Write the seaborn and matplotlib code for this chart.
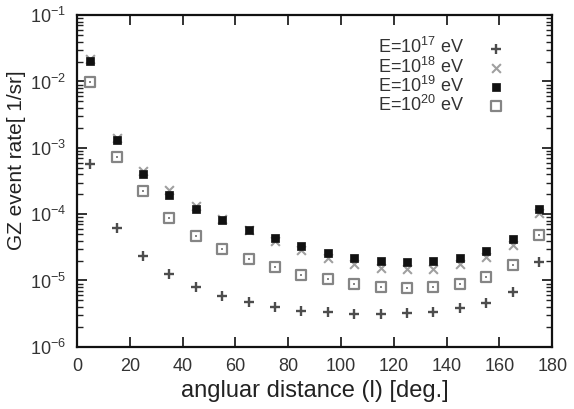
import numpy as np
import pandas as pd
import seaborn as sns
import matplotlib
matplotlib.use("Agg")
import matplotlib.pyplot as plt
from matplotlib.ticker import LogLocator, FixedLocator, FuncFormatter, NullFormatter

# ---- data ----
angle = [5, 15, 25, 35, 45, 55, 65, 75, 85, 95, 105, 115, 125, 135, 145, 155, 165, 175]
rate_e17 = [5.8e-4, 6.1e-5, 2.35e-5, 1.26e-5, 8.1e-6, 5.9e-6, 4.7e-6, 3.96e-6, 3.5e-6,
            3.3e-6, 3.1e-6, 3.1e-6, 3.2e-6, 3.4e-6, 3.8e-6, 4.55e-6, 6.7e-6, 1.93e-5]
rate_e18 = [2.2e-2, 1.4e-3, 4.5e-4, 2.3e-4, 1.35e-4, 8.4e-5, 5.7e-5, 3.9e-5, 2.9e-5,
            2.15e-5, 1.75e-5, 1.55e-5, 1.5e-5, 1.5e-5, 1.8e-5, 2.25e-5, 3.4e-5, 1.05e-4]
rate_e19 = [2.05e-2, 1.31e-3, 4.1e-4, 1.95e-4, 1.19e-4, 8.2e-5, 5.8e-5, 4.3e-5, 3.3e-5,
            2.63e-5, 2.2e-5, 2.0e-5, 1.93e-5, 1.97e-5, 2.17e-5, 2.8e-5, 4.2e-5, 1.19e-4]
rate_e20 = [9.9e-3, 7.3e-4, 2.2e-4, 8.9e-5, 4.75e-5, 2.96e-5, 2.09e-5, 1.58e-5, 1.21e-5,
            1.05e-5, 8.8e-6, 7.9e-6, 7.8e-6, 8.1e-6, 8.8e-6, 1.12e-5, 1.72e-5, 4.9e-5]
labels = [r"E=10$^{17}$ eV", r"E=10$^{18}$ eV", r"E=10$^{19}$ eV", r"E=10$^{20}$ eV"]
x_ticks = [0, 20, 40, 60, 80, 100, 120, 140, 160, 180]
y_exps = [-6, -5, -4, -3, -2, -1]

sns.set_theme(style="white")
plt.rcParams['font.family'] = ['Liberation Sans', 'DejaVu Sans']
plt.rcParams['mathtext.fontset'] = 'custom'
plt.rcParams['mathtext.rm'] = 'Liberation Sans'
plt.rcParams['mathtext.it'] = 'Liberation Sans'

fig = plt.figure(figsize=(5.74, 4.09), dpi=100)
ax = fig.add_axes([0.134, 0.152, 0.828, 0.811])

df = pd.DataFrame({"angle": angle * 4,
                   "rate": rate_e17 + rate_e18 + rate_e19 + rate_e20,
                   "energy": sum([[l] * len(angle) for l in labels], [])})

# E=1e17: plus
sns.scatterplot(data=df[df.energy == labels[0]], x="angle", y="rate", ax=ax,
                marker="+", s=50, color="#4d4d4d", linewidth=1.7, label=labels[0], zorder=3)
# E=1e18: x
sns.scatterplot(data=df[df.energy == labels[1]], x="angle", y="rate", ax=ax,
                marker="x", s=40, color="#a0a0a0", linewidth=1.5, label=labels[1], zorder=4)
# E=1e19: filled square
sns.scatterplot(data=df[df.energy == labels[2]], x="angle", y="rate", ax=ax,
                marker="s", s=36, color="#111111", edgecolor="#111111", linewidth=0.5,
                label=labels[2], zorder=5)
# E=1e20: open square with center dot
sns.scatterplot(data=df[df.energy == labels[3]], x="angle", y="rate", ax=ax,
                marker="s", s=52, facecolor="white", edgecolor="#858585", linewidth=1.6,
                label=labels[3], zorder=6)
sns.scatterplot(data=df[df.energy == labels[3]], x="angle", y="rate", ax=ax,
                marker="s", s=3, color="#858585", linewidth=0, legend=False, zorder=7)

ax.set_yscale("log")
ax.set_xlim(0, 180)
ax.set_ylim(1e-6, 1e-1)
ax.xaxis.set_major_locator(FixedLocator(x_ticks))
ax.yaxis.set_major_locator(FixedLocator([10.0 ** e for e in y_exps]))
ax.yaxis.set_major_formatter(FuncFormatter(lambda v, p: r"10$^{%d}$" % int(round(np.log10(v)))))
ax.yaxis.set_minor_locator(LogLocator(base=10, subs=[2, 3, 4, 5, 6, 7, 8, 9], numticks=100))
ax.yaxis.set_minor_formatter(NullFormatter())
ax.tick_params(which="both", direction="in", top=True, right=True, left=True, bottom=True,
               colors="#222222", labelcolor="#333333")
ax.tick_params(axis="x", which="minor", top=False, bottom=False)
ax.tick_params(which="major", length=7, width=1.3, labelsize=13, pad=8)
ax.tick_params(which="minor", length=4, width=1.0)
for sp in ax.spines.values():
    sp.set_color("#111111")
    sp.set_linewidth(1.6)

ax.set_xlabel("angluar distance (l) [deg.]", fontsize=17, color="#222222", labelpad=4)
ax.set_ylabel("GZ event rate[ 1/sr]", fontsize=15, color="#222222")
ax.yaxis.set_label_coords(-0.108, 0.563)

leg = ax.legend(loc="upper right", bbox_to_anchor=(0.925, 0.955), frameon=False,
                markerfirst=False, fontsize=13, handletextpad=1.0, labelspacing=-0.05,
                borderaxespad=0, handlelength=1.5)
for t in leg.get_texts():
    t.set_color("#333333")

fig.savefig("out.png", dpi=100)
